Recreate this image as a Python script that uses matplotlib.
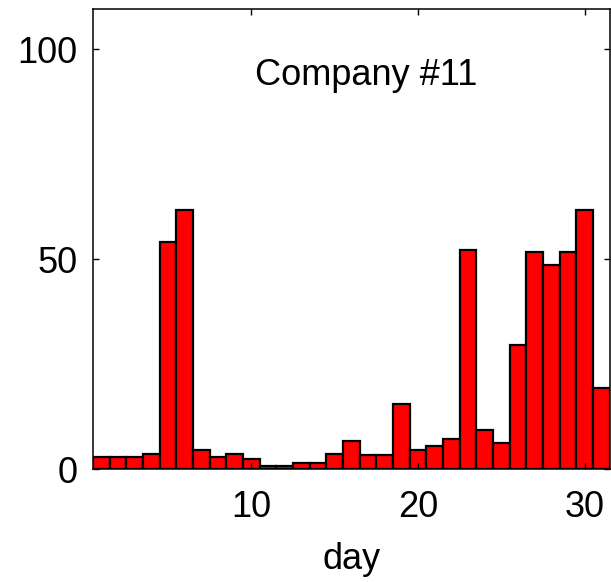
import numpy as np
import matplotlib
matplotlib.use("Agg")
from matplotlib import pyplot as plt

days = np.arange(1, 32)
counts = [2.8, 2.8, 2.8, 3.5, 54.0, 61.7, 4.5, 2.8, 3.5, 2.3,
          0.8, 0.8, 1.4, 1.4, 3.5, 6.7, 3.3, 3.3, 15.6, 4.5,
          5.4, 7.1, 52.1, 9.3, 6.1, 29.5, 51.6, 48.6, 51.6, 61.7,
          19.2]
title = "Company #11"

plt.rcParams['font.family'] = ['Liberation Sans', 'DejaVu Sans']

fig = plt.figure(figsize=(6.11, 5.82), dpi=100)
ax = fig.add_axes([0.152, 0.194, 0.846, 0.790])
ax.bar(days, counts, width=1.0, color='red', edgecolor='black', linewidth=1.6)

ax.set_xlim(0.5, 31.5)
ax.set_ylim(0, 109.5)
ax.set_xticks([10, 20, 30])
ax.set_yticks([0, 50, 100])
ax.tick_params(direction='in', top=True, right=True, length=4, width=1,
               labelsize=26)
ax.tick_params(axis='x', pad=15)
ax.tick_params(axis='y', pad=11)
for s in ax.spines.values():
    s.set_linewidth(1.1)

ax.set_xlabel('day', fontsize=26, labelpad=12)
ax.text(0.528, 0.835, title, transform=ax.transAxes, ha='center',
        va='baseline', fontsize=26)

fig.savefig('out.png', dpi=100)
